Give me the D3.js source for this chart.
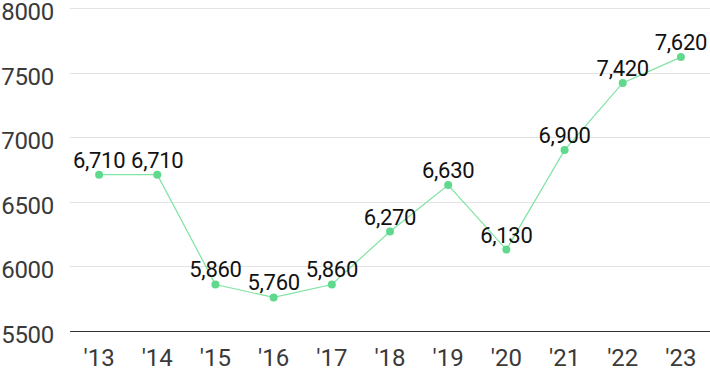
<!DOCTYPE html>
<html>
<head>
<meta charset="utf-8">
<script src="https://cdn.jsdelivr.net/npm/d3@7"></script>
<style>
  body { margin: 0; background: #fff; }
  svg text { font-family: Roboto, "Noto Sans", sans-serif; }
</style>
</head>
<body>
<div id="chart"></div>
<script>
var years = ["'13", "'14", "'15", "'16", "'17", "'18", "'19", "'20", "'21", "'22", "'23"];
var values = [6710, 6710, 5860, 5760, 5860, 6270, 6630, 6130, 6900, 7420, 7620];
var yTicks = [5500, 6000, 6500, 7000, 7500, 8000];

var width = 710, height = 371;
var plotLeft = 70, plotRight = 710, plotTop = 8, plotBottom = 331;

var svg = d3.select("#chart").append("svg")
    .attr("width", width)
    .attr("height", height);

var x = d3.scaleBand().domain(years).range([plotLeft, plotRight]);
var y = d3.scaleLinear().domain([5500, 8000]).range([plotBottom, plotTop]);

// grid
svg.append("g").selectAll("line")
    .data(yTicks)
    .enter().append("line")
    .attr("x1", plotLeft).attr("x2", plotRight)
    .attr("y1", function(d) { return Math.round(y(d)) + 0.5; })
    .attr("y2", function(d) { return Math.round(y(d)) + 0.5; })
    .attr("stroke", function(d) { return d === 5500 ? "#333" : "#e3e3e3"; })
    .attr("stroke-width", 1);

// y labels
svg.append("g").selectAll("text")
    .data(yTicks)
    .enter().append("text")
    .attr("x", 54)
    .attr("y", function(d) { return y(d) + 12; })
    .attr("text-anchor", "end")
    .attr("font-size", 24)
    .attr("letter-spacing", -0.3)
    .attr("fill", "#3a3a3a")
    .text(function(d) { return d; });

// x labels
svg.append("g").selectAll("text")
    .data(years)
    .enter().append("text")
    .attr("x", function(d) { return x(d) + x.bandwidth() / 2; })
    .attr("y", 366)
    .attr("text-anchor", "middle")
    .attr("font-size", 24)
    .attr("fill", "#3a3a3a")
    .text(function(d) { return d; });

var pts = years.map(function(d, i) { return { year: d, value: values[i] }; });

var line = d3.line()
    .x(function(d) { return x(d.year) + x.bandwidth() / 2; })
    .y(function(d) { return y(d.value); });

svg.append("path")
    .datum(pts)
    .attr("d", line)
    .attr("fill", "none")
    .attr("stroke", "#7fe3a2")
    .attr("stroke-width", 1.2);

svg.append("g").selectAll("circle")
    .data(pts)
    .enter().append("circle")
    .attr("cx", function(d) { return x(d.year) + x.bandwidth() / 2; })
    .attr("cy", function(d) { return y(d.value); })
    .attr("r", 4)
    .attr("fill", "#5fd98c");

svg.append("g").selectAll("text")
    .data(pts)
    .enter().append("text")
    .attr("x", function(d) { return x(d.year) + x.bandwidth() / 2; })
    .attr("y", function(d) { return y(d.value) - 7; })
    .attr("text-anchor", "middle")
    .attr("font-size", 22)
    .attr("letter-spacing", -0.3)
    .attr("fill", "#111")
    .text(function(d) { return d3.format(",")(d.value); });
</script>
</body>
</html>
